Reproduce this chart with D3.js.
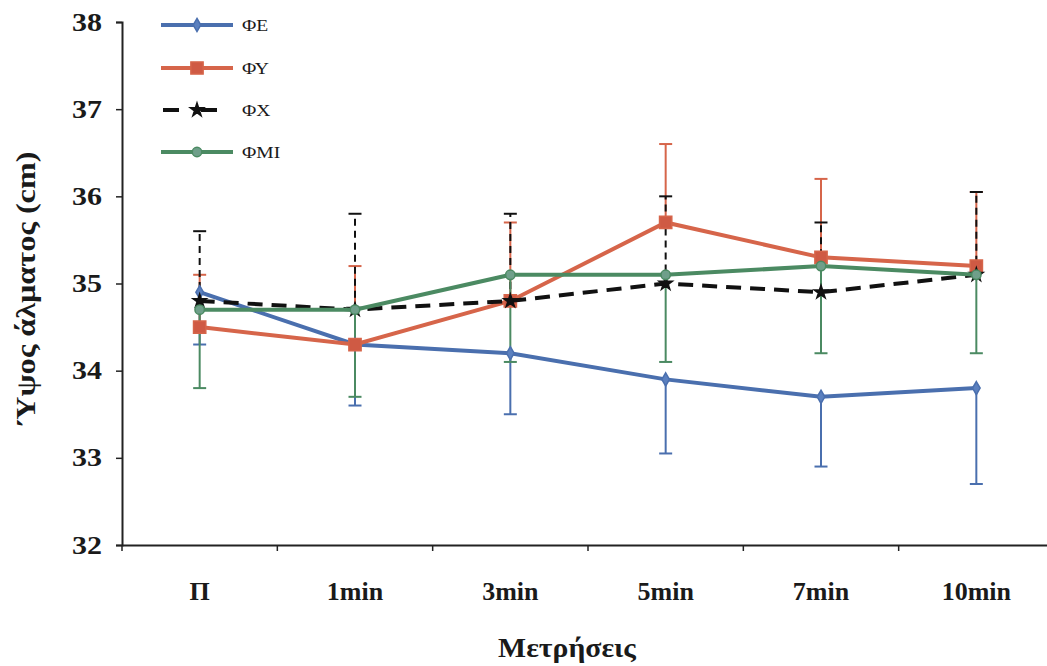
<!DOCTYPE html>
<html>
<head>
<meta charset="utf-8">
<script src="https://cdn.jsdelivr.net/npm/d3@7"></script>
<style>
  html, body { margin: 0; padding: 0; background: #fff; }
  svg { display: block; }
  text { font-family: "Liberation Serif", "Times New Roman", serif; fill: #1a1a1a; }
</style>
</head>
<body>
<svg id="chart" width="1047" height="666"></svg>
<script>
// Measurement points
const categories = ["Π", "1min", "3min", "5min", "7min", "10min"];
const yTicks = [32, 33, 34, 35, 36, 37, 38];

// Mean jump height (cm) per group
const meanFE  = [34.9, 34.3, 34.2, 33.9, 33.7, 33.8];
const meanFY  = [34.5, 34.3, 34.8, 35.7, 35.3, 35.2];
const meanFX  = [34.8, 34.7, 34.8, 35.0, 34.9, 35.1];
const meanFMI = [34.7, 34.7, 35.1, 35.1, 35.2, 35.1];

// Standard deviations (one-sided bars)
const sdFE  = [0.6, 0.7, 0.7, 0.85, 0.8, 1.1];
const sdFY  = [0.6, 0.9, 0.9, 0.9, 0.9, 0.85];
const sdFX  = [0.8, 1.1, 1.0, 1.0, 0.8, 0.95];
const sdFMI = [0.9, 1.0, 1.0, 1.0, 1.0, 0.9];

const series = [
  { name: "ΦΕ",  mean: meanFE,  sd: sdFE,  dir: -1, color: "#4a6fae", dash: null,   symbol: d3.symbolDiamond, size: 50,  fill: "#5b80bf" },
  { name: "ΦΥ",  mean: meanFY,  sd: sdFY,  dir: 1,  color: "#d6654a", dash: null,   symbol: d3.symbolSquare,  size: 150, fill: "#cf5a44" },
  { name: "ΦΧ",  mean: meanFX,  sd: sdFX,  dir: 1,  color: "#111111", dash: "15,9", symbol: d3.symbolStar,    size: 55,  fill: "#111111" },
  { name: "ΦMI", mean: meanFMI, sd: sdFMI, dir: -1, color: "#4b8a62", dash: null,   symbol: d3.symbolCircle,  size: 70,  fill: "#6f9f8a" }
];

const svg = d3.select("#chart");
const x0 = 122, yTop = 22, yBottom = 545;

const x = d3.scaleBand().domain(categories).range([x0, 1054]);
const y = d3.scaleLinear().domain([32, 38]).range([yBottom, yTop]);
const cx = c => x(c) + x.bandwidth() / 2;

// Widen glyphs horizontally by a factor
function widen(sel, f) {
  sel.each(function () {
    const w = this.getComputedTextLength();
    d3.select(this).attr("textLength", w * f).attr("lengthAdjust", "spacingAndGlyphs");
  });
}

// Y axis
const yAxis = svg.append("g")
  .attr("transform", `translate(${x0},0)`)
  .call(d3.axisLeft(y).tickValues(yTicks).tickSize(6).tickPadding(14).tickFormat(d3.format("d")));
yAxis.select(".domain").attr("stroke", "#222").attr("stroke-width", 2);
yAxis.selectAll(".tick line").attr("stroke", "#222").attr("stroke-width", 1.5);
yAxis.selectAll(".tick text")
  .style("font-family", "Liberation Serif, serif")
  .attr("font-size", 25).attr("font-weight", "bold").attr("fill", "#1a1a1a");
widen(yAxis.selectAll(".tick text"), 1.2);

// X axis: labels centred, tick marks on the category boundaries
const xAxis = svg.append("g")
  .attr("transform", `translate(0,${yBottom})`)
  .call(d3.axisBottom(x).tickSize(0).tickPadding(37));
xAxis.select(".domain").attr("stroke", "#222").attr("stroke-width", 2);
xAxis.selectAll(".tick text")
  .style("font-family", "Liberation Serif, serif")
  .attr("font-size", 26).attr("font-weight", "bold").attr("fill", "#1a1a1a");
xAxis.selectAll(".bound")
  .data(categories)
  .join("line")
  .attr("class", "bound")
  .attr("x1", d => x(d)).attr("x2", d => x(d))
  .attr("y1", 0).attr("y2", 6)
  .attr("stroke", "#222").attr("stroke-width", 1.5);

// Axis titles
const yt = svg.append("text")
  .attr("transform", `translate(35,288) rotate(-90)`)
  .attr("text-anchor", "middle")
  .attr("font-size", 28).attr("font-weight", "bold")
  .text("Ύψος άλματος (cm)");
widen(yt, 1.15);

const xt = svg.append("text")
  .attr("x", 567).attr("y", 657)
  .attr("text-anchor", "middle")
  .attr("font-size", 27).attr("font-weight", "bold")
  .text("Μετρήσεις");
widen(xt, 1.1);

// Error bars
const cap = 6.5;
series.forEach(s => {
  const g = svg.append("g");
  categories.forEach((c, i) => {
    const v = s.mean[i], e = v + s.dir * s.sd[i];
    g.append("line")
      .attr("x1", cx(c)).attr("x2", cx(c))
      .attr("y1", y(v)).attr("y2", y(e))
      .attr("stroke", s.color).attr("stroke-width", 2)
      .attr("stroke-dasharray", s.dash ? "7,5" : null);
    g.append("line")
      .attr("x1", cx(c) - cap).attr("x2", cx(c) + cap)
      .attr("y1", y(e)).attr("y2", y(e))
      .attr("stroke", s.color).attr("stroke-width", 2);
  });
});

// Lines and markers
const line = d3.line().x((d, i) => cx(categories[i])).y(d => y(d));
series.forEach(s => {
  svg.append("path")
    .datum(s.mean)
    .attr("d", line)
    .attr("fill", "none")
    .attr("stroke", s.color)
    .attr("stroke-width", 4)
    .attr("stroke-dasharray", s.dash);
  svg.append("g").selectAll("path")
    .data(s.mean)
    .join("path")
    .attr("transform", (d, i) => `translate(${cx(categories[i])},${y(d)})`)
    .attr("d", d3.symbol().type(s.symbol).size(s.size))
    .attr("fill", s.fill)
    .attr("stroke", s.color)
    .attr("stroke-width", 1.5);
});

// Legend
const legend = svg.append("g");
const legY = [25, 68, 110, 152];
series.forEach((s, i) => {
  const g = legend.append("g").attr("transform", `translate(0,${legY[i]})`);
  g.append("line")
    .attr("x1", 161).attr("x2", 233).attr("y1", 0).attr("y2", 0)
    .attr("stroke", s.color).attr("stroke-width", 4)
    .attr("stroke-dasharray", s.dash ? "16,22" : null)
    .attr("stroke-dashoffset", s.dash ? -2 : null);
  g.append("path")
    .attr("transform", "translate(197,0)")
    .attr("d", d3.symbol().type(s.symbol).size(s.size))
    .attr("fill", s.fill).attr("stroke", s.color).attr("stroke-width", 1.5);
  const t = g.append("text")
    .attr("x", 242).attr("y", 6)
    .attr("font-size", 17)
    .text(s.name);
  widen(t, 1.15);
});
</script>
</body>
</html>
